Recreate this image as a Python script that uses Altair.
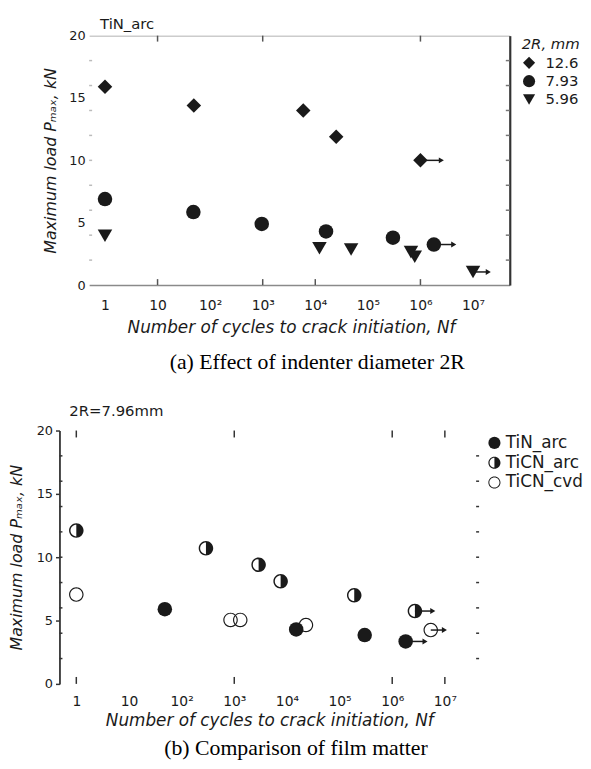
import altair as alt
import pandas as pd

# ---------------- Panel (a): effect of indenter diameter ----------------
a_series = ["12.6"] * 5 + ["7.93"] * 6 + ["5.96"] * 6
a_cycles = [1, 49, 5900, 25000, 1.0e6,
            1, 48, 960, 16000, 300000, 1.8e6,
            1, 12000, 48000, 660000, 780000, 1.0e7]
a_load = [15.9, 14.4, 14.0, 11.9, 10.0,
          6.9, 5.85, 4.9, 4.3, 3.8, 3.25,
          3.95, 2.95, 2.85, 2.64, 2.27, 1.05]
a_arrow_from = [1.0e6, 1.8e6, 1.0e7]
a_arrow_to = [2.5e6, 4.3e6, 1.95e7]
a_arrow_load = [10.0, 3.25, 1.05]
a_ticks_bottom = [10, 1e3, 1e4, 1e6]
a_ticks_top = [10, 1e3, 1e6]

# ---------------- Panel (b): comparison of film matter ----------------
b_series = ["TiN_arc"] * 4 + ["TiCN_arc"] * 6 + ["TiCN_cvd"] * 5
b_cycles = [48, 15000, 300000, 1.8e6,
            1, 290, 2900, 7600, 190000, 2.7e6,
            1, 850, 1300, 23000, 5.4e6]
b_load = [5.9, 4.3, 3.85, 3.35,
          12.1, 10.7, 9.4, 8.1, 7.0, 5.75,
          7.05, 5.05, 5.05, 4.65, 4.25]
b_arrow_from = [1.8e6, 2.7e6, 5.4e6]
b_arrow_to = [4.2e6, 5.9e6, 9.8e6]
b_arrow_load = [3.35, 5.75, 4.25]
b_ticks = [1, 1e3, 1e6, 1e7]

decades = [1, 10, 100, 1e3, 1e4, 1e5, 1e6, 1e7]
minor_y = [2, 4, 6, 8, 10, 12, 14, 16, 18]
y_major = [0, 5, 10, 15, 20]

SANS = "DejaVu Sans"
SERIF = "Liberation Serif"
INK = "#1a1a1a"

label_expr = ("datum.value == 1 ? '1' : datum.value == 10 ? '10' : "
              "'10' + ['', '', '\u00b2', '\u00b3', '\u2074', '\u2075', '\u2076', '\u2077'][round(log(datum.value) / LN10)]")
x_title = "Number of cycles to crack initiation, N\u0066"
y_title = "Maximum load P\u2098\u2090\u2093, kN"

HALF = "M0,-1A1,1 0 0,1 0,1Z M0,-1A1,1 0 0,0 0,1L0,0.8A0.8,0.8 0 0,1 0,-0.8Z"
RING = "M1,0A1,1 0 1,0 -1,0A1,1 0 1,0 1,0Z M0.84,0A0.84,0.84 0 1,1 -0.84,0A0.84,0.84 0 1,1 0.84,0Z"

# ================= panel (a) =================
WA, HA = 425, 252
xa = alt.Scale(type="log", domain=[0.5, 5e7], nice=False)
ya = alt.Scale(domain=[0, 20], nice=False, zero=False)

df_a = pd.DataFrame({"series": a_series, "cycles": a_cycles, "load": a_load})
arr_a = pd.DataFrame({"x0": a_arrow_from, "x1": a_arrow_to, "load": a_arrow_load})

pts_a = alt.Chart(df_a).mark_point(filled=True, opacity=1, color=INK, size=215).encode(
    x=alt.X("cycles:Q", scale=xa,
            axis=alt.Axis(orient="bottom", values=decades, labelExpr=label_expr,
                          ticks=False, tickSize=0, domain=True, domainColor="#8a8a8a",
                          domainWidth=1.5, grid=False, labelFont=SANS, labelFontSize=14,
                          labelColor=INK, labelPadding=14, title=x_title,
                          titleFont=SANS, titleFontSize=17, titleFontStyle="italic",
                          titleFontWeight="normal", titleColor=INK, titlePadding=7,
                          titleX=204)),
    y=alt.Y("load:Q", scale=ya,
            axis=alt.Axis(orient="left", values=y_major, ticks=False, tickSize=0,
                          domain=False, grid=False, labelFont=SANS, labelFontSize=13,
                          labelColor=INK, labelPadding=4, title=y_title,
                          titleFont=SANS, titleFontSize=16, titleFontStyle="italic",
                          titleFontWeight="normal", titleColor=INK, titlePadding=10)),
    shape=alt.Shape("series:N",
                    scale=alt.Scale(domain=["12.6", "7.93", "5.96"],
                                    range=["diamond", "circle", "triangle-down"]),
                    legend=alt.Legend(orient="none", legendX=437, legendY=1,
                                      title="2R, mm", titleFont=SANS, titleFontSize=15,
                                      titleFontStyle="italic", titleFontWeight="normal",
                                      titleColor=INK, titlePadding=4,
                                      labelFont=SANS, labelFontSize=15, labelColor=INK,
                                      labelOffset=9, symbolSize=150, symbolStrokeWidth=0,
                                      symbolFillColor=INK, rowPadding=2.5)),
)

rule_a = alt.Chart(arr_a).mark_rule(color=INK, strokeWidth=1.5).encode(
    x=alt.X("x0:Q", scale=xa,
            axis=alt.Axis(orient="top", labels=False, ticks=False, domain=True,
                          domainColor="#cccccc", domainWidth=1.5, grid=False, title=None)),
    x2="x1:Q",
    y=alt.Y("load:Q", scale=ya,
            axis=alt.Axis(orient="right", labels=False, ticks=False, domain=True,
                          domainColor="#333333", domainWidth=2.2, grid=False, title=None)),
)
head_a = alt.Chart(arr_a).mark_point(shape="triangle-right", filled=True, opacity=1,
                                      color=INK, size=35).encode(
    x=alt.X("x1:Q", scale=xa, axis=None), y=alt.Y("load:Q", scale=ya, axis=None))

tb_a = alt.Chart(pd.DataFrame({"d": a_ticks_bottom})).mark_rule(color="#555", strokeWidth=1.5).encode(
    x=alt.X("d:Q", scale=xa, axis=None), y=alt.value(HA), y2=alt.value(HA - 6))
tt_a = alt.Chart(pd.DataFrame({"d": a_ticks_top})).mark_rule(color="#555", strokeWidth=1.5).encode(
    x=alt.X("d:Q", scale=xa, axis=None), y=alt.value(0), y2=alt.value(6))
tl_a = alt.Chart(pd.DataFrame({"v": minor_y})).mark_rule(color="#bbbbbb", strokeWidth=1.5).encode(
    y=alt.Y("v:Q", scale=ya, axis=None), x=alt.value(0), x2=alt.value(3))
tr_a = alt.Chart(pd.DataFrame({"v": minor_y})).mark_rule(color="#777777", strokeWidth=1.5).encode(
    y=alt.Y("v:Q", scale=ya, axis=None), x=alt.value(WA), x2=alt.value(WA - 4))
sub_a = alt.Chart(pd.DataFrame({"t": ["TiN_arc"]})).mark_text(
    align="left", baseline="middle", font=SANS, fontSize=15, color=INK).encode(
    x=alt.value(11), y=alt.value(-12), text="t:N")

panel_a = alt.layer(tb_a, tt_a, tl_a, tr_a, rule_a, head_a, pts_a, sub_a).resolve_axis(
    x="independent", y="independent").properties(
    width=WA, height=HA,
    title=alt.TitleParams("(a) Effect of indenter diameter 2R", orient="bottom",
                          anchor="middle", frame="group", font=SERIF, fontSize=22,
                          fontWeight="normal", color="#000", dx=18, offset=17))

# ================= panel (b) =================
WB, HB = 424, 256
xb = alt.Scale(type="log", domain=[10 ** -0.32, 10 ** 7.65], range=[-30, 394], nice=False)
yb = alt.Scale(domain=[0, 20], nice=False, zero=False)

df_b = pd.DataFrame({"series": b_series, "cycles": b_cycles, "load": b_load})
arr_b = pd.DataFrame({"x0": b_arrow_from, "x1": b_arrow_to, "load": b_arrow_load})

pts_b = alt.Chart(df_b).mark_point(filled=True, opacity=1, color=INK, size=215).encode(
    x=alt.X("cycles:Q", scale=xb,
            axis=alt.Axis(orient="bottom", values=decades, labelExpr=label_expr,
                          ticks=False, tickSize=0, domain=False, grid=False,
                          labelFont=SANS, labelFontSize=14, labelColor=INK, labelPadding=11,
                          title=x_title, titleFont=SANS, titleFontSize=17,
                          titleFontStyle="italic", titleFontWeight="normal",
                          titleColor=INK, titlePadding=4)),
    y=alt.Y("load:Q", scale=yb,
            axis=alt.Axis(orient="left", offset=30, values=y_major, ticks=True, tickSize=4,
                          tickColor="#333", tickWidth=1.5, domain=True, domainColor="#333333",
                          domainWidth=1.8, grid=False, labelFont=SANS, labelFontSize=13,
                          labelColor=INK, labelPadding=3, title=y_title,
                          titleFont=SANS, titleFontSize=16, titleFontStyle="italic",
                          titleFontWeight="normal", titleColor=INK, titlePadding=12)),
    shape=alt.Shape("series:N",
                    scale=alt.Scale(domain=["TiN_arc", "TiCN_arc", "TiCN_cvd"],
                                    range=["circle", HALF, RING]),
                    legend=alt.Legend(orient="none", legendX=401, legendY=4, title=None,
                                      labelFont=SANS, labelFontSize=17, labelColor=INK,
                                      labelOffset=3, symbolSize=150, symbolStrokeWidth=0,
                                      symbolFillColor=INK, rowPadding=2)),
)
rule_b = alt.Chart(arr_b).mark_rule(color=INK, strokeWidth=1.5).encode(
    x=alt.X("x0:Q", scale=xb, axis=None), x2="x1:Q", y=alt.Y("load:Q", scale=yb, axis=None))
head_b = alt.Chart(arr_b).mark_point(shape="triangle-right", filled=True, opacity=1,
                                      color=INK, size=35).encode(
    x=alt.X("x1:Q", scale=xb, axis=None), y=alt.Y("load:Q", scale=yb, axis=None))
tb_b = alt.Chart(pd.DataFrame({"d": b_ticks})).mark_rule(color="#333", strokeWidth=1.5).encode(
    x=alt.X("d:Q", scale=xb, axis=None), y=alt.value(HB), y2=alt.value(HB - 7))
tt_b = alt.Chart(pd.DataFrame({"d": b_ticks})).mark_rule(color="#333", strokeWidth=1.5).encode(
    x=alt.X("d:Q", scale=xb, axis=None), y=alt.value(0), y2=alt.value(7))
tl_b = alt.Chart(pd.DataFrame({"v": minor_y})).mark_rule(color="#333", strokeWidth=1.5).encode(
    y=alt.Y("v:Q", scale=yb, axis=None), x=alt.value(-30), x2=alt.value(-27))
tr_b = alt.Chart(pd.DataFrame({"v": minor_y})).mark_rule(color="#333", strokeWidth=1.5).encode(
    y=alt.Y("v:Q", scale=yb, axis=None), x=alt.value(394), x2=alt.value(391))
sub_b = alt.Chart(pd.DataFrame({"t": ["2R=7.96mm"]})).mark_text(
    align="left", baseline="middle", font=SANS, fontSize=15, color=INK).encode(
    x=alt.value(-20), y=alt.value(-20), text="t:N")

panel_b = alt.layer(tb_b, tt_b, tl_b, tr_b, rule_b, head_b, pts_b, sub_b).resolve_axis(
    x="independent", y="independent").properties(
    width=WB, height=HB,
    title=alt.TitleParams("(b) Comparison of film matter", orient="bottom",
                          anchor="middle", frame="group", font=SERIF, fontSize=22,
                          fontWeight="normal", color="#000", dx=-3, offset=10))

chart = alt.vconcat(panel_a, panel_b, spacing=31).resolve_scale(
    x="independent", y="independent", shape="independent"
).resolve_legend(shape="independent").properties(
    padding={"left": 0, "top": 5, "right": 0, "bottom": 0}, background="white"
).configure_view(stroke=None, strokeWidth=0)

chart.save("out.html", embed_options={"renderer": "svg", "actions": False})
